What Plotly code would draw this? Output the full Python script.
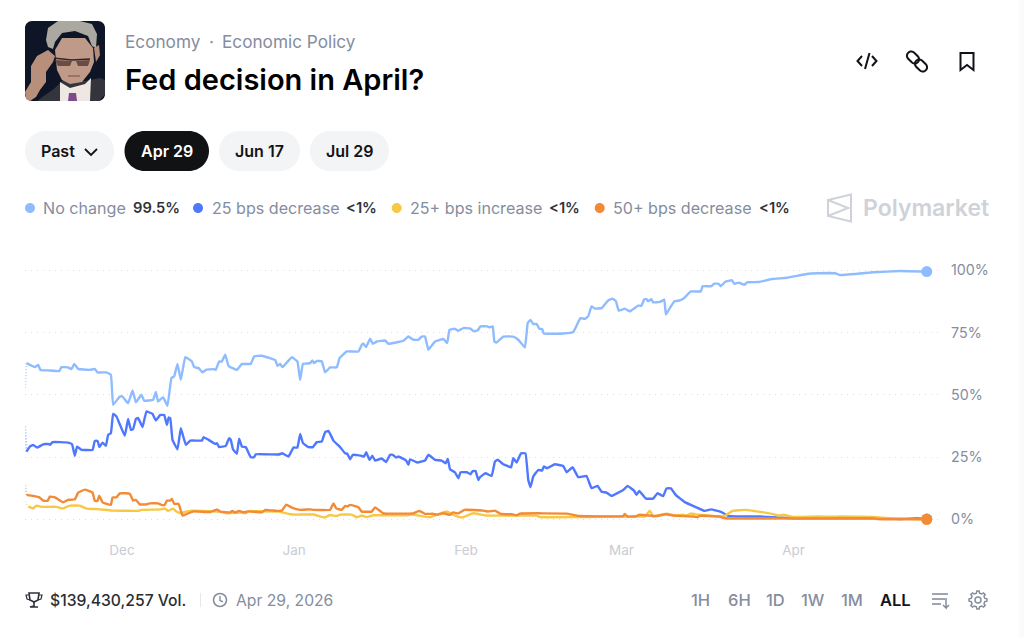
from datetime import datetime, timedelta
import math
import plotly.graph_objects as go

# Data: days relative to 1 Dec 2025, probability in percent
no_change_days = [-17.5,-17.2,-15.7,-15.1,-14.7,-13.3,-11.3,-10.9,-9.7,-9.1,-8.6,-7.9,-5.8,-4.9,-4.4,-2.8,-2.0,-1.6,-0.4,0.1,1.1,1.9,2.5,3.5,4.0,5.6,6.1,6.5,7.4,8.2,8.9,9.4,10.0,10.6,11.4,12.6,13.0,13.8,14.5,15.1,16.5,16.9,17.5,18.0,18.6,19.2,20.7,21.6,23.2,23.8,25.2,26.7,27.6,28.0,28.5,28.9,30.6,31.6,32.1,32.6,33.9,34.3,34.6,35.1,36.0,36.6,37.5,38.7,39.2,40.5,42.6,43.2,43.5,44.0,44.7,45.2,45.9,47.4,48.0,49.8,50.7,51.6,52.5,53.4,54.0,54.6,55.2,56.4,57.9,58.6,59.0,60.0,60.6,61.5,62.7,63.4,64.1,64.6,65.8,66.3,66.8,67.1,67.5,68.7,70.5,71.4,72.6,73.1,73.6,74.1,74.7,75.2,75.7,76.0,79.5,81.3,82.2,82.6,83.4,84.0,84.6,85.2,86.4,87.6,88.4,89.0,89.5,90.6,91.5,93.0,93.6,94.1,94.5,94.8,95.4,95.7,96.9,97.7,98.0,98.7,99.5,100.5,101.3,102.5,104.3,104.6,106.2,106.7,107.5,107.9,108.7,109.9,110.3,111.2,112.1,112.7,114.8,117.1,119.8,123.4,125.2,128.5,129.4,135.4,140.2,145.0]
no_change_vals = [52.7,62.7,61.1,62.0,60.0,59.8,59.5,61.1,61.0,60.3,62.4,60.4,60.0,60.4,59.0,59.0,58.0,46.0,49.3,49.3,46.6,51.7,47.0,50.0,47.6,48.0,51.1,47.3,49.0,45.6,56.7,57.4,62.4,56.0,65.1,63.4,61.1,60.7,59.0,60.0,60.3,60.0,63.4,63.4,66.1,61.6,60.0,62.4,62.4,65.4,65.7,64.7,64.0,61.6,62.4,61.1,65.1,63.4,56.0,62.4,62.7,63.8,62.7,63.6,63.4,59.0,61.0,61.0,64.7,67.4,67.4,70.1,70.5,69.2,72.5,70.5,71.4,71.8,70.5,71.2,71.7,73.4,72.1,72.1,73.4,73.4,68.1,71.4,72.4,70.8,76.1,76.5,75.7,76.8,76.7,75.5,75.9,77.5,77.5,77.1,77.5,71.4,71.0,73.4,73.4,72.1,69.0,78.8,80.1,78.4,78.5,76.5,76.4,74.6,74.6,75.2,79.2,80.8,80.5,81.5,85.5,84.6,84.8,87.9,88.6,87.5,83.8,84.6,83.5,85.8,85.8,88.4,88.4,87.5,88.4,87.1,87.3,88.2,82.2,84.8,87.5,87.9,88.9,91.5,91.5,93.6,93.6,94.6,94.6,93.6,95.4,96.0,94.6,95.0,94.2,95.2,95.3,96.5,97.0,98.5,98.8,98.8,98.1,99.2,99.7,99.5]

dec25_days = [-17.5,-17.2,-16.6,-16.0,-15.3,-14.2,-13.3,-13.0,-12.5,-9.7,-9.0,-8.5,-8.1,-7.3,-5.3,-4.9,-4.4,-4.1,-3.5,-2.9,-2.5,-2.0,-1.6,-1.0,0.5,1.1,1.6,2.0,2.5,2.9,3.7,4.4,5.5,6.1,6.9,7.6,8.1,8.4,8.7,9.1,10.0,10.6,11.5,12.3,14.4,14.7,15.6,16.8,17.1,17.5,18.7,19.3,19.6,20.0,20.7,21.1,21.6,22.3,23.2,23.8,24.1,28.2,28.9,30.0,30.9,31.6,32.1,32.6,33.6,34.4,35.1,36.0,36.6,37.2,38.1,39.3,40.2,40.6,41.1,41.6,43.2,43.6,44.0,44.6,45.1,45.6,46.8,47.6,48.3,48.8,49.4,49.8,51.2,51.6,51.9,53.2,54.6,55.2,56.4,57.6,58.3,58.7,59.1,60.0,60.6,61.0,62.1,62.8,63.2,63.7,64.2,64.5,65.5,66.6,67.2,67.7,68.7,70.1,70.5,71.1,71.9,72.7,73.2,73.6,74.1,75.0,75.7,76.0,76.6,78.0,79.5,80.1,81.2,82.2,83.7,84.6,85.7,86.4,87.3,88.2,90.3,91.1,92.3,92.7,93.2,94.4,95.7,96.5,97.5,98.1,98.9,99.8,101.4,103.2,105.0,106.1,108.1,109.2,112.6,115.0,121.0,133.0,137.8,140.2,143.2,145.0]
dec25_vals = [37.3,27.2,29.2,29.9,28.8,30.1,30.3,29.9,31.0,30.8,30.1,25.5,29.2,27.9,27.9,31.5,31.5,29.0,30.8,29.5,33.9,34.6,42.3,41.3,33.5,40.3,35.9,36.2,40.3,40.7,37.0,43.3,42.3,39.7,41.9,41.9,37.9,40.9,40.6,31.9,28.1,36.6,29.9,31.6,31.6,33.0,31.9,30.3,30.6,29.0,29.5,32.6,31.9,28.1,26.3,32.4,29.2,29.0,24.9,24.9,26.1,26.0,26.5,25.2,28.8,28.8,34.3,30.6,29.0,29.0,31.0,31.2,35.0,35.5,31.6,29.0,26.5,26.3,24.1,25.9,25.5,25.2,26.9,23.9,25.5,23.6,24.4,23.0,25.9,25.9,24.8,25.2,23.6,21.9,24.1,22.8,23.6,25.9,23.9,23.6,22.5,24.3,20.1,18.8,16.5,18.9,18.9,18.1,19.4,19.4,15.8,16.9,18.5,17.4,23.2,23.9,22.1,20.9,24.5,22.8,26.5,26.5,15.8,12.9,17.2,19.8,19.6,21.2,20.5,22.1,21.4,18.9,20.9,16.9,17.4,12.5,13.4,11.1,10.7,9.4,11.8,13.4,11.4,9.8,11.4,8.3,8.3,10.5,9.3,12.4,12.4,9.7,6.9,5.1,3.4,4.0,2.8,1.4,1.1,1.1,0.4,0.4,0.4,0.1,0.4,0.1]

inc25_days = [-17.5,-16.9,-16.0,-15.4,-14.5,-11.8,-10.7,-9.4,-7.6,-6.4,-4.3,-1.6,2.9,3.5,7.1,7.7,8.3,9.2,9.8,10.7,11.3,12.3,16.5,18.3,18.9,21.3,22.2,22.8,28.2,29.6,30.9,34.5,36.5,37.5,38.7,39.3,41.4,42.3,43.2,44.1,45.3,51.3,52.2,55.5,57.0,58.5,59.4,61.2,63.3,65.7,74.7,75.3,82.5,92.7,94.2,95.1,95.7,96.6,97.8,98.4,99.6,101.1,101.7,102.5,103.8,107.5,108.6,110.0,112.3,115.0,117.1,118.3,119.2,120.7,125.2,128.2,129.4,135.4,138.4,145.0]
inc25_vals = [7.1,5.1,4.4,5.5,5.0,5.0,4.3,5.5,5.5,4.3,4.1,3.5,3.4,3.8,4.0,4.4,3.4,4.3,3.1,2.4,3.0,3.4,3.2,2.8,2.4,2.7,2.4,3.2,3.1,2.4,1.9,1.9,0.7,1.7,1.3,1.9,1.9,0.8,1.5,0.9,1.6,1.6,1.9,0.8,2.1,3.1,2.1,0.7,2.4,1.5,1.5,0.9,0.9,1.1,1.1,3.5,1.1,1.6,2.1,2.2,1.5,1.8,1.5,2.3,1.8,1.1,1.4,3.4,3.8,3.0,2.2,1.5,1.8,1.0,1.1,1.0,1.1,0.9,0.4,0.0]

dec50_days = [-17.5,-17.2,-16.0,-14.9,-14.2,-13.4,-13.0,-12.1,-10.6,-9.7,-8.5,-7.9,-6.7,-5.3,-4.9,-4.4,-4.1,-3.5,-2.0,-1.7,-1.0,-0.4,1.4,2.0,2.5,3.2,4.4,5.0,6.5,7.1,7.7,8.1,8.7,9.0,9.4,10.2,10.9,11.6,12.9,15.9,17.1,17.7,19.5,19.9,20.4,21.1,21.9,22.8,25.2,25.8,27.9,28.8,29.6,30.6,32.1,33.9,34.5,37.5,38.1,38.6,39.6,40.2,40.6,41.1,42.6,43.2,45.0,45.6,47.1,52.5,53.6,54.6,56.1,56.7,57.9,59.1,59.6,60.6,61.7,65.1,66.0,67.2,68.2,70.2,71.1,71.7,80.1,82.5,90.3,90.6,91.1,92.4,93.3,96.3,98.0,99.3,103.0,103.7,104.1,107.7,108.6,135.4,136.0,145.0]
dec50_vals = [13.8,9.8,9.4,8.8,7.5,7.4,9.1,8.8,6.8,7.8,8.0,10.7,11.9,10.7,7.4,7.4,9.5,6.8,5.8,8.8,8.8,10.4,10.3,7.5,7.8,6.0,6.0,6.4,6.4,5.8,5.8,7.5,7.5,8.2,6.2,6.2,1.5,2.1,3.2,2.9,4.0,3.1,2.8,3.4,2.7,3.4,2.8,3.2,2.8,3.8,3.4,3.5,5.9,4.7,3.8,4.0,3.8,3.8,6.4,4.4,3.8,5.4,5.1,5.8,4.8,3.1,3.1,4.8,2.4,2.4,3.4,2.2,2.2,1.8,2.4,1.8,2.8,2.4,3.8,3.5,3.1,3.5,2.2,2.0,1.6,2.3,2.3,1.3,1.3,2.1,1.1,1.1,1.8,1.3,2.0,1.5,1.1,0.8,1.4,1.1,0.4,0.4,0.1,0.0]

y_ticks = [0, 25, 50, 75, 100]
y_labels = ["0%", "25%", "50%", "75%", "100%"]
series_names = ["No change", "25 bps decrease", "25+ bps increase", "50+ bps decrease"]
series_colors = ["#8fbcff", "#4f78ff", "#f8c744", "#f28a36"]
series_labels = ["99.5%", "<1%", "<1%", "<1%"]
outcome_tabs = ["Apr 29", "Jun 17", "Jul 29"]
ranges = ["1H", "6H", "1D", "1W", "1M", "ALL"]

BASE = datetime(2025, 12, 1)
def dates(days):
    return [BASE + timedelta(days=d) for d in days]

W, H = 1024, 637
FONT = "Inter"
GRAY = "#858d9e"
DARK = "#111318"

def px(x): return x / W
def py(y): return 1 - y / H

fig = go.Figure()
all_days = [no_change_days, dec25_days, inc25_days, dec50_days]
all_vals = [no_change_vals, dec25_vals, inc25_vals, dec50_vals]
for name, color, d, v in zip(series_names, series_colors, all_days, all_vals):
    fig.add_trace(go.Scatter(x=dates(d[:2]), y=v[:2], mode="lines", showlegend=False, opacity=0.55,
                             line=dict(color=color, width=2.4, dash="1px,2px"), hoverinfo="skip"))
    fig.add_trace(go.Scatter(x=dates(d[1:]), y=v[1:], mode="lines", name=name, showlegend=False,
                             line=dict(color=color, width=2.4, shape="spline", smoothing=0.25)))
for i in [1, 2, 0, 3]:
    fig.add_trace(go.Scatter(x=dates(all_days[i][-1:]), y=all_vals[i][-1:], mode="markers", showlegend=False,
                             marker=dict(color=series_colors[i], size=11), hoverinfo="skip"))

shapes, ann = [], []

def P(cmds):
    """Build an SVG path from page-pixel commands."""
    out = []
    for c in cmds:
        if isinstance(c, str):
            out.append(c)
        else:
            out.append(f"{px(c[0]):.5f},{py(c[1]):.5f}")
    return " ".join(out)

K = 0.5523
def rrect(x0, y0, x1, y1, r):
    k = r * (1 - K)
    return P(["M", (x0 + r, y0), "L", (x1 - r, y0), "C", (x1 - k, y0), (x1, y0 + k), (x1, y0 + r),
              "L", (x1, y1 - r), "C", (x1, y1 - k), (x1 - k, y1), (x1 - r, y1),
              "L", (x0 + r, y1), "C", (x0 + k, y1), (x0, y1 - k), (x0, y1 - r),
              "L", (x0, y0 + r), "C", (x0, y0 + k), (x0 + k, y0), (x0 + r, y0), "Z"])

def fill(path, color):
    shapes.append(dict(type="path", xref="paper", yref="paper", path=path, fillcolor=color, line=dict(width=0), layer="below"))

def stroke(path, color, w=2, fc="rgba(0,0,0,0)"):
    shapes.append(dict(type="path", xref="paper", yref="paper", path=path, fillcolor=fc,
                       line=dict(color=color, width=w), layer="below"))

def circ(cx, cy, r, color):
    fill(rrect(cx - r, cy - r, cx + r, cy + r, r), color)

def ring(cx, cy, r, color, w=1.6):
    stroke(rrect(cx - r, cy - r, cx + r, cy + r, r), color, w)

def poly(pts, close=True):
    c = ["M", pts[0]]
    for p in pts[1:]:
        c += ["L", p]
    if close:
        c.append("Z")
    return P(c)

def stadium(cx, cy, half, r, ang_deg):
    a = math.radians(ang_deg)
    ux, uy = math.cos(a), math.sin(a)
    pts = []
    for end, start in ((1, -90), (-1, 90)):
        ex, ey = cx + end * half * ux, cy + end * half * uy
        for t in range(0, 181, 20):
            b = a + math.radians(start + t)
            pts.append((ex + r * math.cos(b), ey + r * math.sin(b)))
    return poly(pts)

def gear(cx, cy, ro, ri, n=8):
    pts = []
    for i in range(n):
        base = 2 * math.pi * i / n
        step = 2 * math.pi / n
        for frac, r in ((-0.30, ri), (-0.16, ro), (0.16, ro), (0.30, ri)):
            b = base + frac * step
            pts.append((cx + r * math.cos(b), cy + r * math.sin(b)))
    return poly(pts)

def text(x, y, s, size=16, color=GRAY, weight=400, anchor="left"):
    ann.append(dict(xref="paper", yref="paper", x=px(x - 2 if anchor == "left" else x), y=py(y), text=s, showarrow=False,
                    xanchor=anchor, yanchor="middle",
                    font=dict(family=FONT, size=size, color=color, weight=weight)))

# Faint edge on the right of the page
fill(poly([(1019, 0), (1024, 0), (1024, 637), (1019, 637)]), "#fbfbfc")

# Portrait (stylised)
fill(rrect(25, 21, 105, 101, 7), "#0e1526")
fill(poly([(37, 101), (55, 88), (62, 81), (85, 81), (100, 78), (105, 80), (105, 94), (99, 101)]), "#34353c")
fill(poly([(60, 101), (60, 82), (70, 88), (85, 84), (91, 78), (90, 101)]), "#efe7e2")
fill(poly([(68, 101), (69, 93), (76, 93), (77, 101)]), "#7d4a8c")
fill(poly([(94, 48), (99, 45), (100, 55), (96, 62)]), "#b48c7a")
fill(poly([(55, 50), (62, 38), (85, 38), (93, 48), (94, 62), (90, 72), (82, 82), (70, 84), (62, 80), (57, 70)]), "#c09a88")
fill(poly([(46, 40), (48, 28), (58, 21), (80, 21), (92, 24), (97, 34), (96, 48), (92, 46), (88, 36), (75, 31), (62, 33), (55, 42), (53, 49), (48, 47)]), "#aaa8a0")
fill(poly([(55, 60), (72, 61), (70, 66), (58, 66)]), "#6a4c44")
fill(poly([(76, 61), (90, 60), (88, 66), (78, 66)]), "#6a4c44")
stroke(poly([(53, 58), (72, 60), (90, 59)], False), "#2d2623", 1.4)
stroke(poly([(68, 76), (80, 76)], False), "#86584e", 1.2)
fill(poly([(25, 92), (31, 82), (31, 66), (37, 56), (48, 50), (55, 56), (53, 62), (46, 72), (46, 82), (40, 90), (36, 97), (30, 101), (26, 99)]), "#b78f7b")

# Header text
text(125, 41.5, "Economy", 17.2)
text(209, 41.5, "·", 17.2)
text(222, 41.5, "Economic Policy", 17.2)
text(125, 79, "Fed decision in April?", 29, "#000000", 600)

# Header icons
stroke(poly([(862, 56), (857.5, 61), (862, 66)], False), DARK)
stroke(poly([(872, 56), (876.5, 61), (872, 66)], False), DARK)
stroke(poly([(869.5, 53), (865, 69)], False), DARK)
stroke(stadium(913, 57.5, 2.5, 4.3, 45), DARK)
stroke(stadium(921, 65.5, 2.5, 4.3, 45), DARK)
stroke(poly([(960.5, 53), (973.5, 53), (973.5, 70), (967, 65), (960.5, 70)]), DARK)

# Tabs
fill(rrect(25, 131, 114, 171, 20), "#f3f4f6")
text(41, 151, "Past", 16, DARK, 600)
stroke(poly([(85, 149), (91, 155), (97, 149)], False), DARK, 1.8)
tab_boxes = [(124.5, 209), (219, 300), (310, 389)]
for i, (lab, (x0, x1)) in enumerate(zip(outcome_tabs, tab_boxes)):
    fill(rrect(x0, 131, x1, 171, 20), "#111214" if i == 0 else "#f3f4f6")
    text((x0 + x1) / 2, 151, lab, 16, "#ffffff" if i == 0 else DARK, 600, "center")

# Legend row
dots = [30, 198, 396.7, 599.7]
name_x = [42.7, 211.5, 409.7, 612.7]
val_x = [132.7, 346, 549.3, 758.7]
for c, dx, nx, vx, n, v in zip(series_colors, dots, name_x, val_x, series_names, series_labels):
    circ(dx, 208, 5, c)
    text(nx, 208, n, 16.1, GRAY)
    text(vx, 208, v, 14.7, "#2f323a", 600)

# Watermark
LOGO = "#cfd2d9"
stroke(poly([(828, 200), (851, 194.5), (851, 221.5), (828, 216)]), LOGO, 2)
stroke(poly([(828, 200), (848, 208), (828, 216)], False), LOGO, 2)
text(863, 208, "Polymarket", 23, LOGO, 600)

# Footer
TR = "#2f323a"
stroke(poly([(29, 593), (39, 593), (38, 600), (34, 602), (30, 600)]), TR, 1.6)
stroke(poly([(34, 602), (34, 606), (30, 607), (38, 607)], False), TR, 1.6)
stroke(poly([(29, 595), (26, 595), (27, 599), (30, 600)], False), TR, 1.2)
stroke(poly([(39, 595), (42, 595), (41, 599), (38, 600)], False), TR, 1.2)
text(50, 600, "$139,430,257 Vol.", 15.7, "#2a2d33", 500)
fill(poly([(200, 593), (201, 593), (201, 607), (200, 607)]), "#e6e8ec")
ring(220, 600, 6.5, GRAY)
stroke(poly([(220, 596), (220, 600.5), (223, 602)], False), GRAY, 1.4)
text(236, 600, "Apr 29, 2026", 15.7, GRAY)
range_x = [691, 728, 766, 801, 841, 880]
for lab, x in zip(ranges, range_x):
    text(x, 600, lab, 16.5, "#111318" if lab == "ALL" else GRAY, 600 if lab == "ALL" else 500)
for yy, x1 in [(594, 948), (599, 945), (604, 941)]:
    stroke(poly([(932, yy), (x1, yy)], False), GRAY, 1.6)
stroke(poly([(946, 598), (946, 608), (943, 605), (946, 608), (949, 605)], False), GRAY, 1.5)
ring(978, 600, 3, GRAY, 1.5)
stroke(gear(978, 600, 9, 7), GRAY, 1.5)

x_left = (25 - 122) / 5.55
x_right = (938 - 122) / 5.55
fig.update_layout(
    width=W, height=H, margin=dict(l=0, r=0, t=0, b=0), autosize=False,
    paper_bgcolor="#ffffff", plot_bgcolor="rgba(0,0,0,0)",
    shapes=shapes, annotations=ann, font=dict(family=FONT), hovermode="x",
    xaxis=dict(domain=[px(25), px(938)], type="date",
               range=[BASE + timedelta(days=x_left), BASE + timedelta(days=x_right)],
               dtick="M1", tick0="2025-12-01", tickformat="%b", showgrid=False, zeroline=False, showline=False,
               ticks="", ticklabelstandoff=10, tickfont=dict(size=13.5, color="#c9ccd3", family=FONT)),
    yaxis=dict(domain=[1 - 530 / H, 1 - 250 / H], side="right", range=[-4.3, 108.15], tickvals=y_ticks, ticktext=y_labels,
               showgrid=True, gridcolor="#dcdfe4", griddash="1px,5px", gridwidth=1, zeroline=False, showline=False,
               ticks="", ticklabelstandoff=12, tickfont=dict(size=14.3, color="#858d9e", family=FONT)),
)
fig.write_html("out.html", config={"displayModeBar": False},
               post_script="document.body.style.margin='0';document.body.style.overflow='hidden';")
